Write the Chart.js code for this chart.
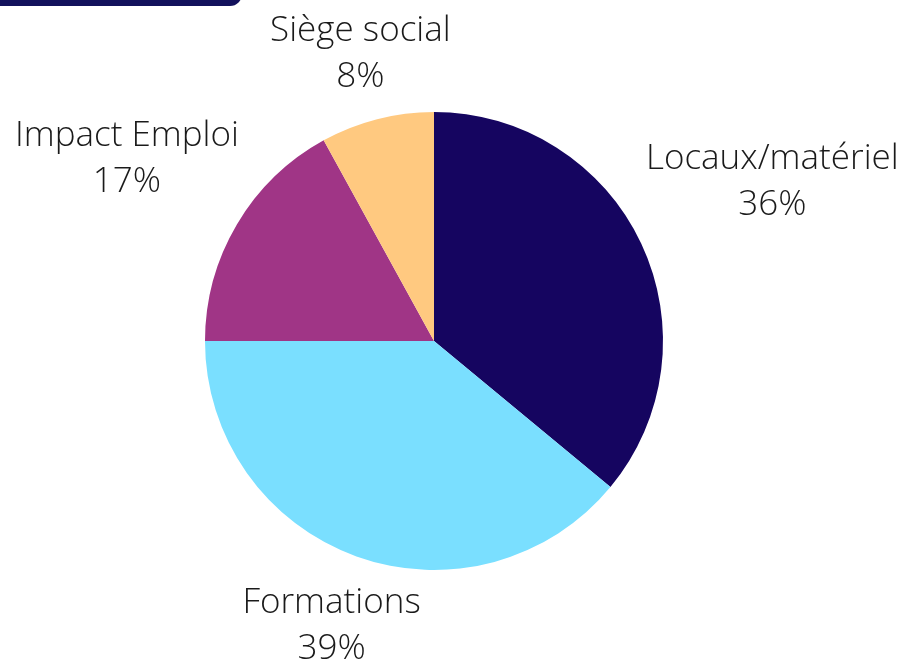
<!DOCTYPE html>
<html><head><meta charset="utf-8">
<script src="https://cdn.jsdelivr.net/npm/chart.js@4/dist/chart.umd.min.js"></script>
<style>
html,body{margin:0;padding:0;background:#fff;}
#wrap{position:relative;width:904px;height:659px;}
#tab{position:absolute;left:-20px;top:-20px;width:262px;height:26px;background:#12115c;border-radius:12px;}
canvas{position:absolute;left:0;top:0;}
</style></head>
<body><div id="wrap"><div id="tab"></div><canvas id="c" width="904" height="659"></canvas></div>
<script>
const categories = ["Locaux/matériel", "Formations", "Impact Emploi", "Siège social"];
const shares = [36, 39, 17, 8];
const colors = ["#150560", "#7ADFFF", "#A03586", "#FFC980"];
const labelGaps = [11, 0, 8, 0];

const outLabels = {
  id: 'outLabels',
  afterDatasetsDraw(chart) {
    const ctx = chart.ctx;
    const meta = chart.getDatasetMeta(0);
    ctx.save();
    ctx.font = '300 35px "Open Sans"';
    ctx.fillStyle = '#1a1a1a';
    ctx.textAlign = 'center';
    ctx.textBaseline = 'middle';
    const lh = 46;
    meta.data.forEach((arc, i) => {
      const p = arc.getProps(['x','y','startAngle','endAngle','outerRadius'], true);
      const mid = (p.startAngle + p.endAngle) / 2;
      const ux = Math.cos(mid), uy = Math.sin(mid);
      const lines = [categories[i], shares[i] + '%'];
      const w = Math.max(...lines.map(t => ctx.measureText(t).width));
      const h = lh * 2;
      const ext = (Math.abs(ux) * w + Math.abs(uy) * h) / 2;
      const d = p.outerRadius + labelGaps[i] + ext;
      const cx = p.x + ux * d, cy = p.y + uy * d;
      ctx.fillText(lines[0], cx, cy - lh / 2);
      ctx.fillText(lines[1], cx, cy + lh / 2);
    });
    ctx.restore();
  }
};

new Chart(document.getElementById('c'), {
  type: 'pie',
  data: { labels: categories, datasets: [{ data: shares, backgroundColor: colors, borderWidth: 0 }] },
  options: {
    responsive: false, animation: false,
    layout: { padding: { top: 112, bottom: 89, left: 205, right: 241 } },
    plugins: { legend: { display: false }, tooltip: { enabled: false } }
  },
  plugins: [outLabels]
});
</script></body></html>
